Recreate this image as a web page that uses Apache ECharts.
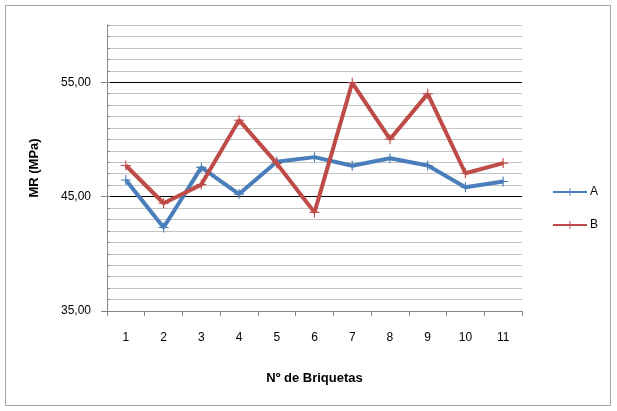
<!DOCTYPE html>
<html>
<head>
<meta charset="utf-8">
<script src="https://cdn.jsdelivr.net/npm/echarts@6/dist/echarts.min.js"></script>
<style>
html,body{margin:0;padding:0;background:#fff;}
#chart{width:617px;height:411px;}
</style>
</head>
<body>
<div id="chart"></div>
<script>
const categories = ['1','2','3','4','5','6','7','8','9','10','11'];
const seriesA = [46.45, 42.3, 47.55, 45.22, 48.05, 48.45, 47.7, 48.35, 47.72, 45.82, 46.32];
const seriesB = [47.72, 44.42, 46.05, 51.68, 47.9, 43.62, 54.95, 50.02, 53.98, 47.04, 47.93];
const yMajorTicks = [35, 45, 55];
const yMin = 35, yMax = 60;

const FONT = 'Liberation Sans';
const plusPath = 'path://M4,0h1v4h4v1h-4v4h-1v-4h-4v-1h4z';

const splitColors = [];
for (let v = yMin; v <= yMax; v++) {
  splitColors.push(yMajorTicks.indexOf(v) >= 0 ? '#000000' : '#c4c4c4');
}

const chart = echarts.init(document.getElementById('chart'), null, {renderer: 'canvas'});
chart.setOption({
  animation: false,
  backgroundColor: '#ffffff',
  textStyle: {fontFamily: FONT, color: '#000'},
  graphic: [{
    type: 'rect',
    shape: {x: 5.5, y: 5.5, width: 605, height: 400},
    style: {fill: 'none', stroke: '#a6a6a6', lineWidth: 1},
    silent: true
  }],
  grid: {left: 107, right: 95, top: 25, bottom: 100, containLabel: false},
  legend: {
    orient: 'vertical',
    left: 547,
    top: 181,
    itemWidth: 34,
    itemHeight: 10,
    itemGap: 21,
    textStyle: {fontFamily: FONT, fontSize: 12, color: '#000', padding: [0,0,0,-2]},
    data: ['A', 'B']
  },
  xAxis: {
    type: 'category',
    data: categories,
    boundaryGap: true,
    name: 'Nº de Briquetas',
    nameLocation: 'middle',
    nameGap: 61,
    nameTextStyle: {fontFamily: FONT, fontSize: 13, fontWeight: 'bold', color: '#000'},
    axisLine: {lineStyle: {color: '#868686', width: 1}},
    axisTick: {show: true, alignWithLabel: false, length: 5, inside: false, lineStyle: {color: '#868686'}},
    axisLabel: {fontFamily: FONT, fontSize: 12, color: '#000', margin: 21},
    splitLine: {show: false}
  },
  yAxis: [{
    type: 'value',
    min: yMin,
    max: yMax,
    interval: 1,
    name: 'MR (MPa)',
    nameLocation: 'middle',
    nameGap: 66,
    nameTextStyle: {fontFamily: FONT, fontSize: 13, fontWeight: 'bold', color: '#000'},
    axisLine: {show: true, lineStyle: {color: '#868686', width: 1}},
    axisTick: {show: true, inside: true, length: 3, lineStyle: {color: '#868686'}},
    axisLabel: {show: false},
    splitLine: {show: true, lineStyle: {color: splitColors, width: 1}}
  }, {
    type: 'value',
    min: yMin,
    max: yMax,
    interval: 10,
    position: 'left',
    axisLine: {show: false},
    axisTick: {show: true, customValues: yMajorTicks, length: 6, lineStyle: {color: '#868686'}},
    axisLabel: {
      customValues: yMajorTicks,
      fontFamily: FONT, fontSize: 12, color: '#000', margin: 16,
      formatter: v => v.toFixed(2).replace('.', ',')
    },
    splitLine: {show: false}
  }],
  series: [{
    name: 'A',
    type: 'line',
    data: seriesA,
    symbol: plusPath,
    symbolSize: 10,
    showSymbol: true,
    lineStyle: {color: '#4a7ebb', width: 4},
    itemStyle: {color: '#4a7ebb'},
    z: 3
  }, {
    name: 'B',
    type: 'line',
    data: seriesB,
    symbol: plusPath,
    symbolSize: 10,
    showSymbol: true,
    lineStyle: {color: '#be4b48', width: 4},
    itemStyle: {color: '#be4b48'},
    z: 4
  }]
});
</script>
</body>
</html>
